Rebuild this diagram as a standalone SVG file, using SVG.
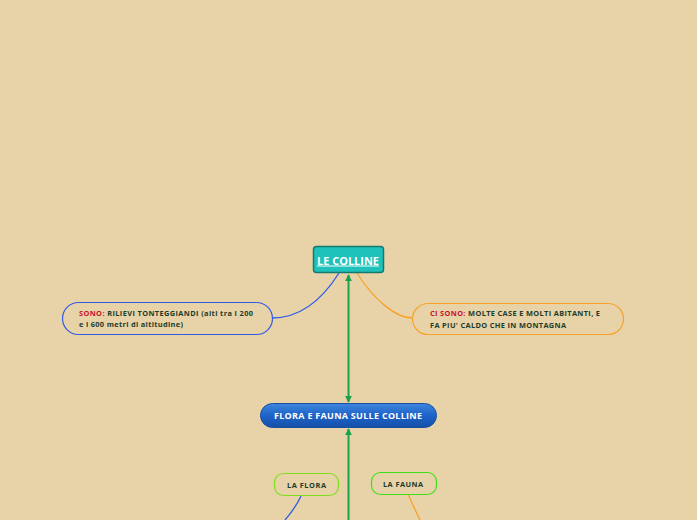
<svg xmlns="http://www.w3.org/2000/svg" width="697" height="520" viewBox="0 0 697 520">
<style>
.t{font-family:"Open Sans","Noto Sans","Liberation Sans",sans-serif;font-weight:bold}
.lbl{font-size:7.4px;fill:#1d3b2a}
.red{fill:#c8102e}
.c{fill:none;stroke-width:1.3}
</style>
<defs>
<linearGradient id="bg1" x1="0" y1="0" x2="0" y2="1">
<stop offset="0" stop-color="#3d86de"/>
<stop offset="0.5" stop-color="#1e63c8"/>
<stop offset="1" stop-color="#1450a8"/>
</linearGradient>
<marker id="ag" viewBox="0 0 10 10" refX="9" refY="5" markerWidth="7" markerHeight="7" orient="auto-start-reverse" markerUnits="userSpaceOnUse">
<path d="M0,0 L10,5 L0,10 z" fill="#17a34a"/>
</marker>
</defs>
<rect width="697" height="520" fill="#e8d3a8"/>
<g id="connectors">
<path class="c" d="M339,273 C322,300 300,318 272,318" stroke="#2f5bea"/>
<path class="c" d="M357,273 C374,300 396,318 412,318" stroke="#f7a22a"/>
<line x1="348.5" y1="275" x2="348.5" y2="402" stroke="#17a34a" stroke-width="2" marker-start="url(#ag)" marker-end="url(#ag)"/>
<line x1="348.5" y1="429" x2="348.5" y2="520" stroke="#17a34a" stroke-width="2" marker-start="url(#ag)"/>
<path class="c" d="M301,496 C297,505 291,513 285,520" stroke="#2f5bea"/>
<path class="c" d="M408,494 C412,503 416,512 420,520" stroke="#f7a22a"/>
</g>
<g id="le-colline">
<rect x="313.5" y="246.5" width="70" height="26" rx="3" fill="#1fc2ba" stroke="#137a70" stroke-width="1.5"/>
<text class="t" x="317" y="264.5" font-size="10" fill="#ffffff" text-decoration="underline" textLength="62" lengthAdjust="spacingAndGlyphs">LE COLLINE</text>
</g>
<g id="sono">
<rect x="62.5" y="302.5" width="210" height="32" rx="16" fill="none" stroke="#2f5bea" stroke-width="1.2"/>
<text class="t lbl" x="79" y="316" textLength="174" lengthAdjust="spacing"><tspan class="red">SONO:</tspan> RILIEVI TONTEGGIANDI (alti tra i 200</text>
<text class="t lbl" x="79" y="327" textLength="104" lengthAdjust="spacing">e i 600 metri di altitudine)</text>
</g>
<g id="ci-sono">
<rect x="412.5" y="303.5" width="211" height="31" rx="15.5" fill="none" stroke="#f7a22a" stroke-width="1.2"/>
<text class="t lbl" x="430" y="316" textLength="170" lengthAdjust="spacing"><tspan class="red">CI SONO:</tspan> MOLTE CASE E MOLTI ABITANTI, E</text>
<text class="t lbl" x="430" y="328" textLength="136" lengthAdjust="spacing">FA PIU' CALDO CHE IN MONTAGNA</text>
</g>
<g id="flora-fauna">
<rect x="260.5" y="403.5" width="176" height="24" rx="12" fill="url(#bg1)" stroke="#1a4fa0" stroke-width="1"/>
<text class="t" x="274" y="418.5" font-size="9" fill="#ffffff" textLength="148" lengthAdjust="spacing">FLORA E FAUNA SULLE COLLINE</text>
</g>
<g id="la-flora">
<rect x="274.5" y="473.5" width="64" height="22" rx="9" fill="none" stroke="#7ee01c" stroke-width="1.2"/>
<text class="t lbl" x="287" y="487.5" textLength="39" lengthAdjust="spacing">LA FLORA</text>
</g>
<g id="la-fauna">
<rect x="371.5" y="472.5" width="65" height="22" rx="9" fill="none" stroke="#3ee01c" stroke-width="1.2"/>
<text class="t lbl" x="383" y="486.5" textLength="40" lengthAdjust="spacing">LA FAUNA</text>
</g>
</svg>
